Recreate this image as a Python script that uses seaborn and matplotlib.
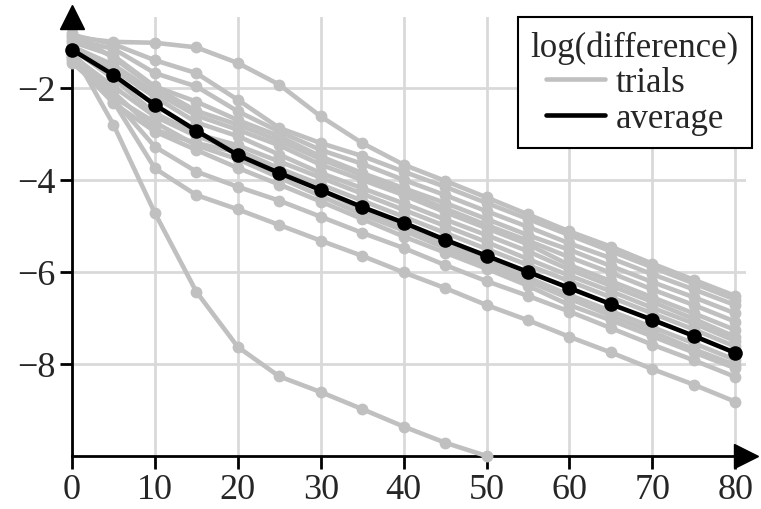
import numpy as np
import pandas as pd
import matplotlib
matplotlib.use("Agg")
import matplotlib.pyplot as plt
from matplotlib.lines import Line2D
import seaborn as sns

# Iteration steps shared by every series
steps = [0, 5, 10, 15, 20, 25, 30, 35, 40, 45, 50, 55, 60, 65, 70, 75, 80]

# log(difference) for each individual trial
trial_01 = [-0.90, -1.00, -1.02, -1.12, -1.46, -1.93, -2.62, -3.20, -3.67, -4.02, -4.38, -4.75, -5.12, -5.45, -5.82, -6.17, -6.52]
trial_02 = [-0.85, -1.05, -1.40, -1.68, -2.26, -2.87, -3.20, -3.48, -3.82, -4.15, -4.50, -4.85, -5.20, -5.55, -5.90, -6.25, -6.60]
trial_03 = [-0.95, -1.15, -1.68, -1.97, -2.51, -2.95, -3.35, -3.65, -4.00, -4.33, -4.68, -5.02, -5.38, -5.70, -6.05, -6.38, -6.72]
trial_04 = [-1.00, -1.30, -1.97, -2.30, -2.70, -3.05, -3.49, -3.85, -4.18, -4.50, -4.85, -5.20, -5.52, -5.87, -6.22, -6.55, -6.90]
trial_05 = [-1.10, -1.50, -2.10, -2.60, -2.91, -3.25, -3.67, -4.00, -4.33, -4.70, -5.05, -5.40, -5.85, -6.20, -6.55, -6.90, -7.26]
trial_06 = [-0.80, -1.35, -2.00, -2.50, -2.80, -3.15, -3.55, -3.90, -4.25, -4.62, -4.98, -5.32, -5.68, -6.02, -6.38, -6.72, -7.08]
trial_07 = [-1.20, -1.60, -2.20, -2.75, -3.05, -3.45, -3.85, -4.18, -4.51, -4.86, -5.20, -5.55, -5.95, -6.30, -6.65, -7.02, -7.41]
trial_08 = [-1.15, -1.80, -2.55, -3.00, -3.25, -3.60, -3.95, -4.30, -4.65, -5.00, -5.35, -5.72, -6.08, -6.42, -6.78, -7.12, -7.50]
trial_09 = [-1.30, -1.97, -2.62, -3.05, -3.35, -3.75, -4.10, -4.45, -4.80, -5.15, -5.50, -5.85, -6.20, -6.55, -6.90, -7.25, -7.62]
trial_10 = [-1.25, -2.10, -2.91, -3.20, -3.40, -3.80, -4.22, -4.65, -5.04, -5.40, -5.75, -6.12, -6.50, -6.85, -7.20, -7.55, -7.91]
trial_11 = [-1.35, -2.20, -2.75, -3.25, -3.55, -3.95, -4.35, -4.75, -5.10, -5.48, -5.85, -6.20, -6.58, -6.95, -7.30, -7.68, -8.02]
trial_12 = [-1.40, -2.33, -2.95, -3.35, -3.74, -4.10, -4.47, -4.85, -5.23, -5.58, -5.93, -6.30, -6.72, -7.05, -7.40, -7.75, -8.09]
trial_13 = [-1.45, -2.25, -3.28, -3.82, -4.15, -4.45, -4.80, -5.15, -5.48, -5.85, -6.20, -6.52, -6.86, -7.22, -7.58, -7.92, -8.28]
trial_14 = [-1.30, -2.30, -3.75, -4.33, -4.64, -4.98, -5.32, -5.65, -6.01, -6.35, -6.72, -7.05, -7.41, -7.75, -8.11, -8.45, -8.82]
trial_15 = [-1.20, -2.80, -4.72, -6.43, -7.63, -8.27, -8.61, -8.98, -9.36, -9.71, -10.00]

# Mean curve over all trials
average = [-1.17, -1.72, -2.37, -2.93, -3.46, -3.85, -4.22, -4.59, -4.93, -5.30, -5.65, -6.00, -6.35, -6.70, -7.04, -7.39, -7.76]

# Axis ticks and labels
x_ticks = [0, 10, 20, 30, 40, 50, 60, 70, 80]
y_ticks = [-8, -6, -4, -2]
y_tick_labels = ["-8", "-6", "-4", "-2"]

trials = [trial_01, trial_02, trial_03, trial_04, trial_05, trial_06, trial_07,
          trial_08, trial_09, trial_10, trial_11, trial_12, trial_13, trial_14, trial_15]

rows = []
for k, vals in enumerate(trials):
    for s, v in zip(steps, vals):
        rows.append({"trial": k, "step": s, "value": v})
trial_df = pd.DataFrame(rows)
avg_df = pd.DataFrame({"step": steps, "value": average})

sns.set_style("white")
plt.rcParams["font.family"] = ["Liberation Serif", "DejaVu Serif"]

fig = plt.figure(figsize=(7.61, 5.10), dpi=100)
ax = fig.add_axes([72 / 761, 53 / 510, 674 / 761, 439 / 510])

grey = "#c0c0c0"
sns.lineplot(data=trial_df, x="step", y="value", units="trial", estimator=None,
             color=grey, lw=3.3, marker="o", markersize=8.5, markeredgewidth=0,
             ax=ax, zorder=3, clip_on=False, legend=False)
sns.lineplot(data=avg_df, x="step", y="value", color="black", lw=3.3,
             marker="o", markersize=10.5, markeredgewidth=0,
             ax=ax, zorder=4, clip_on=False, legend=False)

ax.set_xlim(0, 81.3)
ax.set_ylim(-10, -0.46)
ax.set_xticks(x_ticks)
ax.set_yticks(y_ticks)
ax.set_yticklabels(["\u2212" + t[1:] for t in y_tick_labels])
ax.grid(True, color="#d9d9d9", lw=2)
ax.set_axisbelow(True)
ax.set_xlabel("")
ax.set_ylabel("")

for side in ("top", "right"):
    ax.spines[side].set_visible(False)
for side in ("left", "bottom"):
    ax.spines[side].set_color("black")
    ax.spines[side].set_linewidth(2)
    ax.spines[side].set_zorder(2.5)

ax.tick_params(axis="both", direction="out", length=9, width=2, color="black",
               labelsize=26, pad=3, left=True, bottom=True)

# Arrow heads at the ends of both axes
ax.plot(1, 0, marker=">", color="black", markersize=17, transform=ax.transAxes,
        clip_on=False, zorder=5)
ax.plot(0, 1, marker="^", color="black", markersize=17, transform=ax.transAxes,
        clip_on=False, zorder=5)

handles = [Line2D([], [], color=grey, lw=3.3), Line2D([], [], color="black", lw=3.3)]
leg = ax.legend(handles, ["trials", "average"], title="log(difference)",
                loc="upper right", bbox_to_anchor=(1.009, 1.0), borderaxespad=0,
                fontsize=25, title_fontsize=25, frameon=True, fancybox=False,
                handlelength=1.7, handletextpad=0.3, labelspacing=0.08,
                borderpad=0.38)
leg.get_frame().set_edgecolor("black")
leg.get_frame().set_linewidth(1.5)
leg.get_frame().set_alpha(1)
leg.set_zorder(6)

fig.savefig("out.png", dpi=100)
